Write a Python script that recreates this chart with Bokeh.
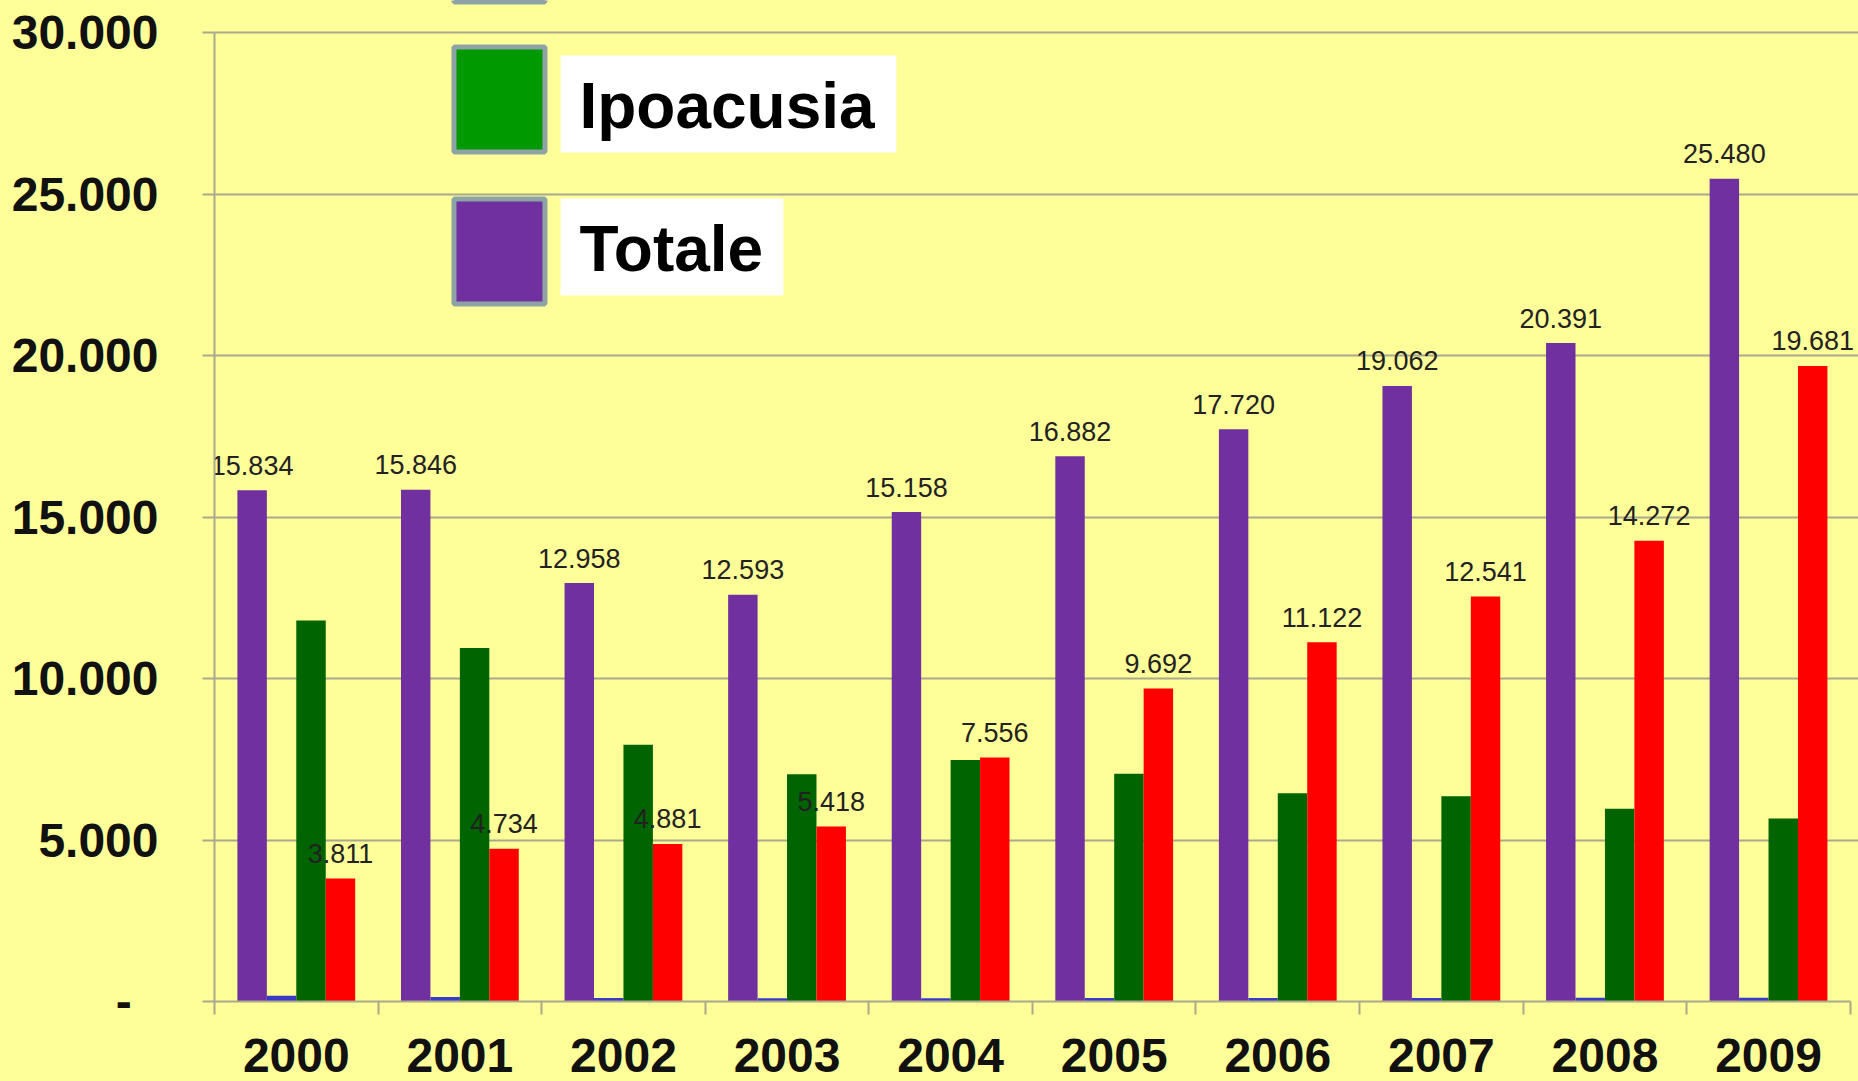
from bokeh.plotting import figure
from bokeh.models import ColumnDataSource, Range1d, FixedTicker, Label, BoxAnnotation
from bokeh.transform import dodge
from bokeh.core.properties import value
from bokeh.embed import file_html
from bokeh.resources import INLINE

# ---------------- data ----------------
years = ["2000", "2001", "2002", "2003", "2004", "2005", "2006", "2007", "2008", "2009"]
totale = [15834, 15846, 12958, 12593, 15158, 16882, 17720, 19062, 20391, 25480]
serie_blu = [180, 140, 110, 100, 100, 110, 110, 110, 120, 120]
ipoacusia = [11800, 10950, 7950, 7040, 7480, 7050, 6450, 6360, 5970, 5670]
serie_rossa = [3811, 4734, 4881, 5418, 7556, 9692, 11122, 12541, 14272, 19681]
y_ticks = [0, 5000, 10000, 15000, 20000, 25000, 30000]
y_tick_labels = ["-\u00a0\u00a0", "5.000", "10.000", "15.000", "20.000", "25.000", "30.000"]
legend_labels = ["Ipoacusia", "Totale"]


def fmt(v):
    return f"{v:,}".replace(",", ".")


# ---------------- style / layout ----------------
BG = "#FFFF99"
GRID = "#A9A98C"
PURPLE = "#7030A0"
BLUE = "#3A3AC8"
GREEN = "#006400"
RED = "#FF0000"
FONT = "Liberation Sans"

idx = list(range(len(years)))
src = ColumnDataSource(dict(
    x=idx, totale=totale, blu=serie_blu, ipo=ipoacusia, rosso=serie_rossa,
    totale_lbl=[fmt(v) for v in totale], rosso_lbl=[fmt(v) for v in serie_rossa],
))

p = figure(width=1858, height=1081, output_backend="svg", toolbar_location=None,
           x_range=Range1d(-0.5, 9.55), y_range=Range1d(0, 31000),
           min_border_left=214, min_border_right=0, min_border_top=0, min_border_bottom=80,
           background_fill_color=BG, border_fill_color=BG, outline_line_color=None)

W = 0.18
OFF = [-0.27, -0.09, 0.09, 0.27]
p.vbar(x=dodge("x", OFF[0]), top="totale", width=W, source=src, fill_color=PURPLE, line_color=None)
p.vbar(x=dodge("x", OFF[1]), top="blu", width=W, source=src, fill_color=BLUE, line_color=None)
p.vbar(x=dodge("x", OFF[2]), top="ipo", width=W, source=src, fill_color=GREEN, line_color=None)
p.vbar(x=dodge("x", OFF[3]), top="rosso", width=W, source=src, fill_color=RED, line_color=None)

p.text(x=dodge("x", OFF[0]), y="totale", text="totale_lbl", source=src,
       text_align="center", text_baseline="alphabetic", y_offset=-25,
       text_font=value(FONT), text_font_size="27px", text_color="#222222")
p.text(x=dodge("x", OFF[3]), y="rosso", text="rosso_lbl", source=src,
       text_align="center", text_baseline="alphabetic", y_offset=-25,
       text_font=value(FONT), text_font_size="27px", text_color="#222222")

# x axis
xa = p.xaxis[0]
xa.ticker = FixedTicker(ticks=idx, minor_ticks=[i - 0.5 for i in range(len(years) + 1)])
xa.major_label_overrides = {i: y for i, y in zip(idx, years)}
xa.bounds = (-0.5, len(years) - 0.5)
xa.major_tick_line_color = None
xa.major_tick_out = 0
xa.major_tick_in = 0
xa.minor_tick_out = 13
xa.minor_tick_in = 0
xa.minor_tick_line_color = GRID
xa.minor_tick_line_width = 2
xa.axis_line_color = GRID
xa.axis_line_width = 2
xa.major_label_standoff = 24
xa.major_label_text_font = FONT
xa.major_label_text_font_style = "bold"
xa.major_label_text_font_size = "48px"
xa.major_label_text_color = "#111111"

# y axis
ya = p.yaxis[0]
ya.ticker = FixedTicker(ticks=y_ticks)
ya.major_label_overrides = dict(zip(y_ticks, y_tick_labels))
ya.bounds = (0, 30000)
ya.major_tick_out = 12
ya.major_tick_in = 0
ya.minor_tick_out = 0
ya.minor_tick_in = 0
ya.major_tick_line_color = GRID
ya.major_tick_line_width = 2
ya.axis_line_color = GRID
ya.axis_line_width = 2
ya.major_label_standoff = 44
ya.major_label_text_font = FONT
ya.major_label_text_font_style = "bold"
ya.major_label_text_font_size = "48px"
ya.major_label_text_color = "#111111"

p.xgrid.visible = False
p.ygrid.ticker = FixedTicker(ticks=y_ticks)
p.ygrid.grid_line_color = GRID
p.ygrid.grid_line_width = 2

# ---------------- legend (drawn by hand, pixel layout) ----------------
PX_LEFT, PX_PER_CAT = 214.0, 163.6
PX_ZERO, PX_PER_UNIT = 1001.0, 1001.0 / 31000


def sx(px):
    return -0.5 + (px - PX_LEFT) / PX_PER_CAT


def sy(py):
    return (PX_ZERO - py) / PX_PER_UNIT


BORDER = "#8DA3A6"
# item above (cut off by the top edge in the original)
p.add_layout(BoxAnnotation(left=sx(453.5), right=sx(544.5), top=sy(-103), bottom=sy(1.5),
                           fill_color=BLUE, fill_alpha=1.0, line_color=BORDER, line_width=5,
                           line_alpha=1.0))

legend_colors = ["#009900", PURPLE]
for k, (lab, col) in enumerate(zip(legend_labels, legend_colors)):
    top = 46.5 + 152 * k
    p.add_layout(BoxAnnotation(left=sx(453.5), right=sx(544.5), top=sy(top), bottom=sy(top + 105),
                               fill_color=col, fill_alpha=1.0, line_color=BORDER, line_width=5,
                               line_alpha=1.0))
    wbox_top = 55 + 143 * k
    right_px = [896, 783][k]
    p.add_layout(BoxAnnotation(left=sx(560), right=sx(right_px), top=sy(wbox_top), bottom=sy(wbox_top + 97),
                               fill_color="white", fill_alpha=1.0, line_color=None))
    p.add_layout(Label(x=sx(579), y=sy(wbox_top + 50), text=lab, text_align="left",
                       text_baseline="middle", text_font=FONT, text_font_style="bold",
                       text_font_size="64px", text_color="black"))

html = file_html(p, INLINE, title="Grafico")
html = html.replace("</head>", "<style>body{background:#FFFF99;}</style></head>", 1)
open("out.html", "w").write(html)
